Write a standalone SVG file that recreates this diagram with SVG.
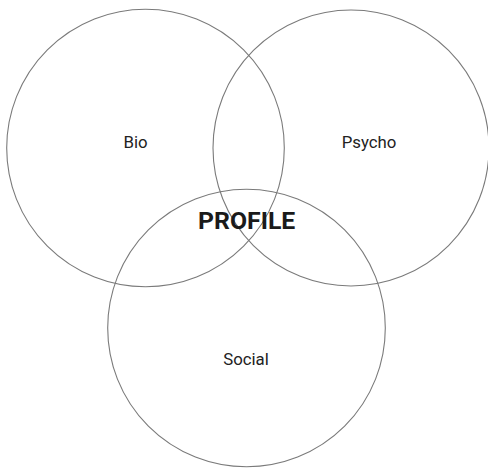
<svg xmlns="http://www.w3.org/2000/svg" width="488" height="468" viewBox="0 0 488 468">
<style>
.c{fill:none;stroke:#7a7a7a;stroke-width:1.1}
.t{font-family:Roboto,"Liberation Sans",sans-serif;font-size:16.8px;fill:#222;text-anchor:middle}
.b{font-family:Roboto,"Liberation Sans",sans-serif;font-size:24.8px;font-weight:bold;fill:#1a1a1a;text-anchor:middle}
</style>
<rect width="488" height="468" fill="#fff"/>
<g id="bio"><circle class="c" cx="145.5" cy="148" r="138.8"/><text class="t" x="135.5" y="147.7">Bio</text></g>
<g id="psycho"><circle class="c" cx="351" cy="148" r="138"/><text class="t" x="369" y="147.7">Psycho</text></g>
<g id="social"><circle class="c" cx="246.5" cy="328" r="138.8"/><text class="t" x="246" y="365">Social</text></g>
<g id="profile"><text class="b" x="246.7" y="229.3">PROFILE</text></g>
<g id="connectors"></g>
</svg>
